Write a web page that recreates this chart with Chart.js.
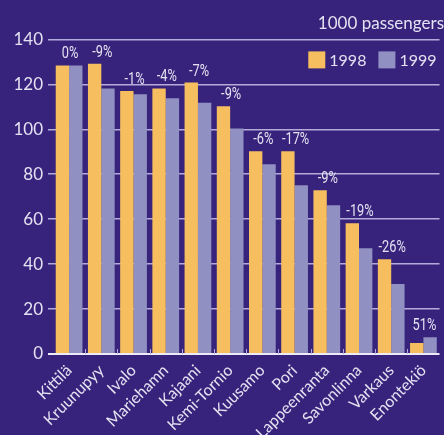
<!DOCTYPE html>
<html>
<head>
<meta charset="utf-8">
<script src="https://cdn.jsdelivr.net/npm/chart.js@4/dist/chart.umd.min.js"></script>
<style>
  html, body { margin: 0; padding: 0; background: #37237b; overflow: hidden; }
  #wrap { position: relative; width: 444px; height: 435px; }
</style>
</head>
<body>
<div id="wrap"><canvas id="c"></canvas></div>
<script>
// Airports and passenger volumes (thousands)
const airports = ['Kittilä', 'Kruunupyy', 'Ivalo', 'Mariehamn', 'Kajaani', 'Kemi-Tornio',
  'Kuusamo', 'Pori', 'Lappeenranta', 'Savonlinna', 'Varkaus', 'Enontekiö'];
const passengers1998 = [128.4, 129.2, 117.0, 118.2, 120.8, 110.2, 90.2, 90.2, 72.9, 58.2, 42.2, 4.9];
const passengers1999 = [128.4, 118.2, 115.6, 113.8, 111.8, 100.4, 84.4, 75.1, 66.2, 47.1, 31.1, 7.4];
const changeLabels = ['0%', '-9%', '-1%', '-4%', '-7%', '-9%', '-6%', '-17%', '-9%', '-19%', '-26%', '51%'];
const yTicks = [0, 20, 40, 60, 80, 100, 120, 140];

const ORANGE = '#f6be5f';
const LAVENDER = '#9090c2';
const GRID = '#b3acd8';
const BASE = '#ecebf7';
const TEXT = '#e4e2f2';
const FONT = 'Lato, "Open Sans", sans-serif';
const NARROW = 'Roboto, "DejaVu Sans", sans-serif';

// Change labels above each pair of bars (narrowed type), plus small separators on the baseline
const annotate = {
  id: 'annotate',
  afterDatasetsDraw(chart) {
    const { ctx, scales: { x, y } } = chart;
    const m0 = chart.getDatasetMeta(0).data;
    const m1 = chart.getDatasetMeta(1).data;
    const squeeze = 0.8;
    changeLabels.forEach((t, i) => {
      const top = Math.min(m0[i].y, m1[i].y);
      ctx.save();
      ctx.font = '16px ' + NARROW;
      ctx.fillStyle = TEXT;
      ctx.textAlign = 'center';
      ctx.textBaseline = 'alphabetic';
      ctx.translate(x.getPixelForValue(i) + 1, top - 7);
      ctx.scale(squeeze, 1);
      ctx.fillText(t, 0, 0);
      ctx.restore();
    });
    ctx.save();
    ctx.strokeStyle = GRID;
    ctx.lineWidth = 1;
    const base = y.getPixelForValue(0);
    for (let i = 1; i < airports.length; i++) {
      const px = Math.round((x.getPixelForValue(i - 1) + x.getPixelForValue(i)) / 2) + 0.5;
      ctx.beginPath();
      ctx.moveTo(px, base - 5);
      ctx.lineTo(px, base);
      ctx.stroke();
    }
    ctx.restore();
  }
};

// Legend drawn inside the plot, under the top grid line, right-aligned
const innerLegend = {
  id: 'innerLegend',
  afterDraw(chart) {
    const { ctx, chartArea } = chart;
    const box = 17, gapText = 4, gapItem = 12;
    ctx.save();
    ctx.font = '16px ' + FONT;
    ctx.textBaseline = 'middle';
    ctx.textAlign = 'left';
    const items = chart.data.datasets.map(d => ({ text: d.label, color: d.backgroundColor, w: ctx.measureText(d.label).width }));
    const total = items.reduce((s, it) => s + box + gapText + it.w, 0) + gapItem * (items.length - 1);
    let cx = chartArea.right - 3 - total;
    const top = chartArea.top + 12;
    items.forEach(it => {
      ctx.fillStyle = it.color;
      ctx.fillRect(cx, top, box, box);
      ctx.fillStyle = TEXT;
      ctx.fillText(it.text, cx + box + gapText, top + box / 2 + 1);
      cx += box + gapText + it.w + gapItem;
    });
    ctx.restore();
  }
};

new Chart(document.getElementById('c'), {
  type: 'bar',
  data: {
    labels: airports,
    datasets: [
      { label: '1998', data: passengers1998, backgroundColor: ORANGE },
      { label: '1999', data: passengers1999, backgroundColor: LAVENDER }
    ]
  },
  options: {
    responsive: true,
    maintainAspectRatio: false,
    animation: false,
    layout: { padding: 0 },
    datasets: { bar: { categoryPercentage: 0.83, barPercentage: 1.0 } },
    plugins: {
      title: {
        display: true,
        text: '1000 passengers',
        align: 'end',
        color: TEXT,
        font: { family: FONT, size: 17, weight: 'normal' },
        padding: { top: 13, bottom: 6 }
      },
      legend: { display: false },
      tooltip: { enabled: false }
    },
    scales: {
      x: {
        grid: { display: false, drawTicks: false },
        border: { display: false },
        ticks: {
          color: TEXT,
          font: { family: FONT, size: 16 },
          maxRotation: 45,
          minRotation: 45,
          autoSkip: false,
          padding: 7
        },
        afterFit(s) { s.height = 81; }
      },
      y: {
        min: 0,
        max: 140,
        afterBuildTicks(s) { s.ticks = yTicks.map(v => ({ value: v })); },
        grid: {
          color: c => (c.tick && c.tick.value === 0) ? BASE : GRID,
          lineWidth: c => (c.tick && c.tick.value === 0) ? 2 : 1.5,
          drawTicks: true,
          tickLength: 5,
          tickColor: c => (c.tick && c.tick.value === 0) ? BASE : GRID
        },
        border: { display: false },
        ticks: {
          color: TEXT,
          font: { family: FONT, size: 17 },
          padding: 5
        },
        afterFit(s) { s.width = 53; }
      }
    }
  },
  plugins: [annotate, innerLegend]
});
</script>
</body>
</html>
